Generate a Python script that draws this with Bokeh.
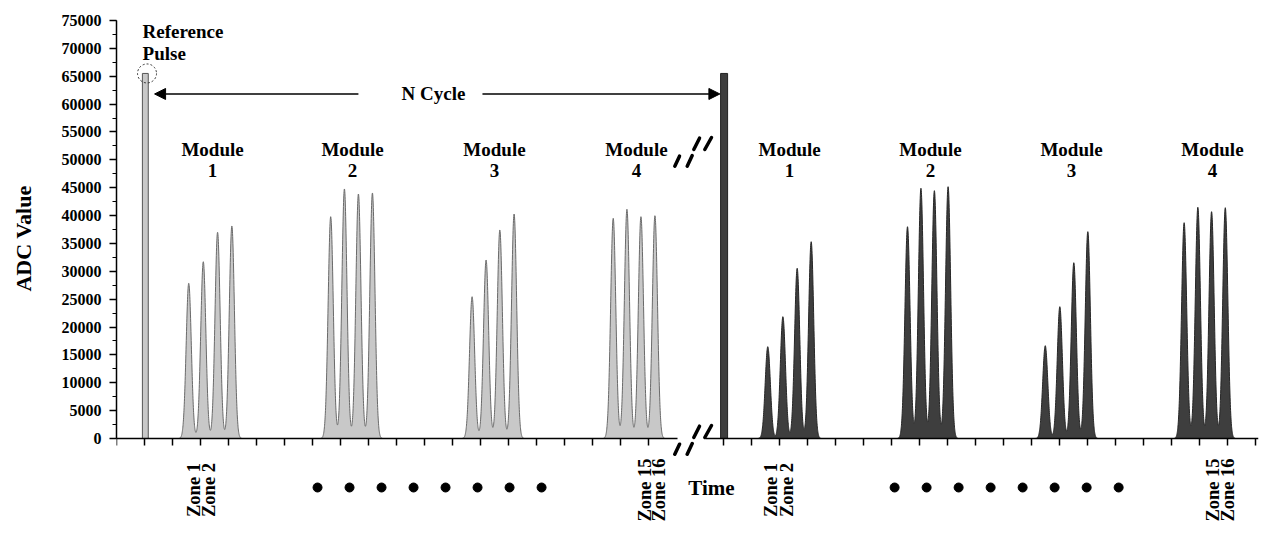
import numpy as np
from bokeh.plotting import figure
from bokeh.layouts import column
from bokeh.models import Range1d, FixedTicker, LinearAxis, Arrow, NormalHead
from bokeh.core.properties import value
from bokeh.embed import file_html
from bokeh.resources import INLINE

# ---------------- data (time in tick units, ADC value) ----------------
ref_pulse_time = [1.03, 21.70]
ref_pulse_adc = [65500, 65500]

cycle1_zone_time = [2.58, 3.10, 3.61, 4.12,
                    7.65, 8.14, 8.64, 9.14,
                    12.70, 13.20, 13.69, 14.20,
                    17.74, 18.23, 18.73, 19.23]
cycle1_adc = [27850, 31720, 37000, 38130,
              39800, 44770, 43870, 44050,
              25440, 32030, 37410, 40280,
              39510, 41130, 39800, 39980]

cycle2_zone_time = [23.26, 23.80, 24.31, 24.81,
                    28.25, 28.73, 29.21, 29.70,
                    33.17, 33.69, 34.19, 34.69,
                    38.13, 38.62, 39.11, 39.60]
cycle2_adc = [16470, 21860, 30540, 35310,
              38000, 44900, 44470, 45180,
              16650, 23650, 31540, 37110,
              38720, 41490, 40700, 41410]

module_names = ["1", "2", "3", "4"]
zone_names = ["Zone 1", "Zone 2", "Zone 15", "Zone 16"]
y_ticks = list(range(0, 75001, 5000))
y_minor_ticks = list(range(0, 75001, 2500))
x_ticks_cycle1 = [float(k) for k in range(0, 20)]
x_ticks_cycle2 = [21.68 + k for k in range(0, 20)]

# ---------------- styling helpers ----------------
FONT = "Liberation Serif"
PX_T = 1 / 28.0          # time units per pixel
PX_Y = 1 / 0.005573      # ADC units per pixel
SIG = 0.092              # pulse width (tick units)
TOP_H = 456
BOT_H = 78


def waveform(times, amps):
    t = np.linspace(min(times) - 0.36, max(times) + 0.36, 500)
    y = np.zeros_like(t)
    for c, a in zip(times, amps):
        y += a * np.exp(-0.5 * ((t - c) / SIG) ** 2)
    return t, y


x_range = Range1d(0, 1142 * PX_T)
p = figure(width=1272, height=TOP_H, output_backend="svg", toolbar_location=None,
           title=None, x_axis_location=None,
           x_range=x_range, y_range=Range1d(-(TOP_H - 438) * PX_Y, 75000),
           min_border_left=116, min_border_right=14, min_border_top=20,
           min_border_bottom=0)
p.outline_line_color = None
p.xgrid.visible = False
p.ygrid.visible = False

# y axis
ya = p.yaxis[0]
ya.bounds = (0, 75000)
ya.ticker = FixedTicker(ticks=y_ticks, minor_ticks=y_minor_ticks)
ya.major_tick_out = 7
ya.major_tick_in = 0
ya.minor_tick_out = 4
ya.minor_tick_in = 0
ya.axis_line_width = 1.5
ya.major_tick_line_width = 1.5
ya.minor_tick_line_width = 1.2
ya.major_label_text_font = FONT
ya.major_label_text_font_style = "bold"
ya.major_label_text_font_size = "16px"
ya.major_label_text_color = "black"
ya.major_label_standoff = 8
ya.axis_label = "ADC Value"
ya.axis_label_text_font = FONT
ya.axis_label_text_font_style = "bold"
ya.axis_label_text_font_size = "22px"
ya.axis_label_text_color = "black"
ya.axis_label_standoff = 23

# broken time axis: two unlabeled segments drawn at ADC = 0
for ticks, bounds in [(x_ticks_cycle1, (0, 561 * PX_T)),
                      (x_ticks_cycle2, (589 * PX_T, 1142 * PX_T))]:
    ax = LinearAxis(ticker=FixedTicker(ticks=[], minor_ticks=ticks), bounds=bounds,
                    fixed_location=0)
    ax.major_tick_out = 0
    ax.major_tick_in = 0
    ax.minor_tick_out = 0
    ax.minor_tick_in = 7
    ax.axis_line_width = 1.5
    ax.minor_tick_line_width = 1.5
    ax.minor_tick_line_color = "black"
    ax.major_label_standoff = 0
    p.add_layout(ax, "above")

# ---------------- pulses ----------------
for times, amps, fill, line in [
    (cycle1_zone_time, cycle1_adc, "#c8c8c8", "#6a6a6a"),
    (cycle2_zone_time, cycle2_adc, "#3e3e3e", "#262626"),
]:
    for m in range(4):
        tt = times[4 * m:4 * m + 4]
        aa = amps[4 * m:4 * m + 4]
        t, y = waveform(tt, aa)
        p.varea(x=t, y1=0, y2=y, fill_color=fill)
        p.line(x=t, y=y, line_color=line, line_width=1)

p.vbar(x=[ref_pulse_time[0]], top=[ref_pulse_adc[0]], width=0.21,
       fill_color="#c8c8c8", line_color="#555555", line_width=1)
p.vbar(x=[ref_pulse_time[1]], top=[ref_pulse_adc[1]], width=0.25,
       fill_color="#3e3e3e", line_color="#222222", line_width=1)

# dashed circle around reference pulse top
p.scatter(x=[ref_pulse_time[0] + 0.06], y=[ref_pulse_adc[0]], marker="circle", size=19,
          fill_color=None, line_color="#333333", line_width=1, line_dash="2 2")


# ---------------- texts ----------------
def txt(fig, x, y, text, size="19px", align="center", baseline="middle", angle=0.0):
    fig.text(x=x, y=y, text=text, text_font=value(FONT), text_font_style="bold",
             text_font_size=size, text_align=align, text_baseline=baseline,
             text_color="black", angle=angle)


txt(p, [0.93], [73030], ["Reference"], align="left")
txt(p, [0.93], [69080], ["Pulse"], align="left")
txt(p, [11.32], [61820], ["N Cycle"])

arrow_y = 61820
p.add_layout(Arrow(end=NormalHead(size=11, fill_color="black", line_color="black"),
                   x_start=8.64, y_start=arrow_y, x_end=1.36, y_end=arrow_y,
                   line_width=1.5, line_color="black"))
p.add_layout(Arrow(end=NormalHead(size=11, fill_color="black", line_color="black"),
                   x_start=13.07, y_start=arrow_y, x_end=21.55, y_end=arrow_y,
                   line_width=1.5, line_color="black"))

module_x = [3.43, 8.43, 13.50, 18.57, 24.04, 29.07, 34.11, 39.14]
txt(p, module_x, [51860] * 8, ["Module"] * 8)
txt(p, module_x, [48090] * 8, module_names * 2)

# ---------------- axis break marks ----------------
break_x = (692 - 116) * PX_T
dashes = [((-17.7, 13.7), (-13.0, 3.7)), ((-5.3, 13.7), (-0.3, 3.0)),
          ((1.3, -3.0), (7.0, -14.3)), ((12.3, -3.0), (19.0, -15.0))]
x0s, y0s, x1s, y1s = [], [], [], []
for yc in [(438.0 - 152) * PX_Y, (438.0 - 440) * PX_Y]:
    for (dx0, dy0), (dx1, dy1) in dashes:
        x0s.append(break_x + dx0 * PX_T)
        y0s.append(yc - dy0 * PX_Y)
        x1s.append(break_x + dx1 * PX_T)
        y1s.append(yc - dy1 * PX_Y)
p.segment(x0=x0s, y0=y0s, x1=x1s, y1=y1s, line_color="black", line_width=3.5,
          line_cap="round")

# ---------------- strip below the time axis (zone names, dots, "Time") ----------------
q = figure(width=1272, height=BOT_H, output_backend="svg", toolbar_location=None,
           title=None, x_axis_location=None, y_axis_location=None,
           x_range=x_range, y_range=Range1d(-BOT_H, 0),
           min_border_left=116, min_border_right=14, min_border_top=0,
           min_border_bottom=0)
q.outline_line_color = None
q.xgrid.visible = False
q.ygrid.visible = False

zone_x = [2.78, 3.32, 18.87, 19.39, 23.37, 23.93, 39.16, 39.68]
txt(q, zone_x, [-33.5] * 8, zone_names * 2, size="18.5px", angle=np.pi / 2)

dot_x = [7.18 + 1.143 * k for k in range(8)] + [27.79 + 1.143 * k for k in range(8)]
q.scatter(x=dot_x, y=[-31] * 16, marker="circle", size=9, color="black")

txt(q, [21.25], [-31.5], ["Time"], size="21px")

layout = column(p, q, spacing=0)
open("out.html", "w").write(file_html(layout, INLINE))
